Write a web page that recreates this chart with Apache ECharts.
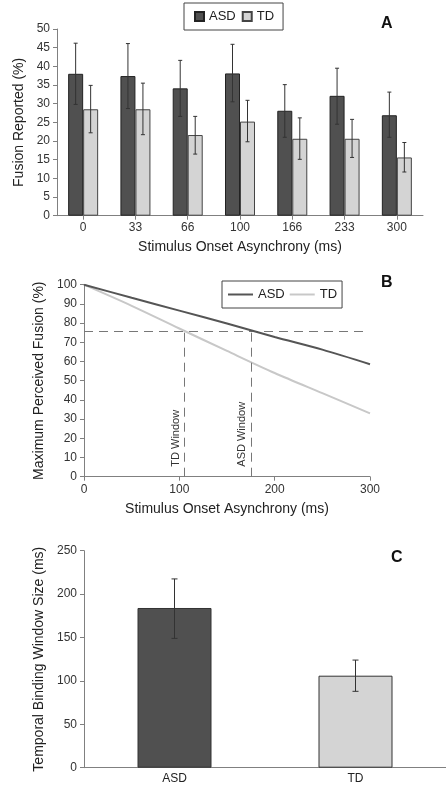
<!DOCTYPE html>
<html>
<head>
<meta charset="utf-8">
<script src="https://cdn.jsdelivr.net/npm/echarts@6/dist/echarts.min.js"></script>
<style>
html, body { margin: 0; padding: 0; background: #fff; }
#main { width: 446px; height: 787px; }
</style>
</head>
<body>
<div id="main"></div>
<script>
// panel A: fusion reported per SOA
var soaCats = ['0', '33', '66', '100', '166', '233', '300'];
var asdFusion = [38.0, 37.4, 34.1, 38.1, 28.1, 32.1, 26.9];
var asdFusionHigh = [46.2, 46.1, 41.6, 45.9, 35.1, 39.5, 33.1];
var asdFusionLow = [29.8, 28.7, 26.6, 30.5, 21.0, 24.5, 21.0];
var tdFusion = [28.5, 28.5, 21.6, 25.2, 20.6, 20.6, 15.6];
var tdFusionHigh = [34.9, 35.5, 26.6, 30.9, 26.2, 25.8, 19.6];
var tdFusionLow = [22.2, 21.7, 16.5, 19.8, 15.1, 15.6, 11.7];

// panel B: modelled max perceived fusion
var soaMs = [0, 50, 100, 150, 200, 250, 300];
var asdCurve = [100, 93.2, 86.5, 79.8, 72.8, 66.2, 58.6];
var tdCurve = [100, 89.0, 77.2, 65.5, 54.0, 43.5, 33.0];
var threshold = 76;
var windowNames = ['TD Window', 'ASD Window'];
var windowAt = [105, 175];

// panel C: window size
var groups = ['ASD', 'TD'];
var windowSize = [184, 106];
var windowHigh = [217.5, 124];
var windowLow = [149, 88];

var asdColor = '#505050';
var tdColor = '#d4d4d4';
var axisGray = '#808080';
var font = 'Liberation Sans';

function errPairs(hi, lo) {
	var out = [];
	for (var i = 0; i < hi.length; i++) {
		out.push([i, hi[i], lo[i]]);
	}
	return out;
}

// draws error bars, shifted sideways by dx px
function errorRender(dx, cap) {
	return function (params, api) {
		var x = api.value(0);
		var hi = api.coord([x, api.value(1)]);
		var lo = api.coord([x, api.value(2)]);
		var cx = hi[0] + dx;
		var style = { stroke: '#333', lineWidth: 1 };
		return {
			type: 'group',
			children: [
				{ type: 'line', shape: { x1: cx, y1: hi[1], x2: cx, y2: lo[1] }, style: style },
				{ type: 'line', shape: { x1: cx - cap, y1: hi[1], x2: cx + cap, y2: hi[1] }, style: style },
				{ type: 'line', shape: { x1: cx - cap, y1: lo[1], x2: cx + cap, y2: lo[1] }, style: style }
			]
		};
	};
}

var axisCommon = {
	axisLine: { show: true, lineStyle: { color: axisGray, width: 1 } },
	axisTick: { show: true, length: 4, lineStyle: { color: axisGray } },
	axisLabel: { color: '#333', fontSize: 12, fontFamily: font },
	splitLine: { show: false },
	nameTextStyle: { color: '#222', fontSize: 14, fontFamily: font }
};

function ax(extra) {
	return Object.assign({}, JSON.parse(JSON.stringify(axisCommon)), extra);
}

var myChart = echarts.init(document.getElementById('main'));

var option = {
	animation: false,
	backgroundColor: '#fff',
	textStyle: { fontFamily: font },
	grid: [
		{ left: 57, right: 23, top: 29, height: 186.7 },
		{ left: 84, right: 76, top: 284.7, height: 192 },
		{ left: 84, right: -9, top: 550.7, height: 217 }
	],
	legend: [{
		data: ['ASD', 'TD'],
		left: 184, top: 3,
		padding: [7, 9, 7, 10],
		icon: 'rect',
		itemWidth: 9, itemHeight: 9, itemGap: 6,
		borderColor: '#444', borderWidth: 1,
		textStyle: { fontSize: 13, color: '#222', fontFamily: font }
	}, {
		data: ['ASD ', 'TD '],
		left: 222, top: 281,
		padding: [7, 5, 7, 5],
		itemWidth: 25, itemHeight: 10, itemGap: 4,
		borderColor: '#444', borderWidth: 1,
		itemStyle: { opacity: 0 },
		formatter: function (n) { return n.trim(); },
		textStyle: { fontSize: 13, color: '#222', fontFamily: font }
	}],
	xAxis: [
		ax({
			gridIndex: 0, type: 'category', data: soaCats,
			axisTick: { show: true, alignWithLabel: true, length: 4, lineStyle: { color: axisGray } },
			axisLabel: { color: '#333', fontSize: 12, fontFamily: font, margin: 6 },
			name: 'Stimulus Onset Asynchrony (ms)', nameLocation: 'middle', nameGap: 24
		}),
		ax({
			gridIndex: 1, type: 'value', min: 0, max: 300, interval: 100,
			axisLabel: { color: '#333', fontSize: 12, fontFamily: font, margin: 7 },
			name: 'Stimulus Onset Asynchrony (ms)', nameLocation: 'middle', nameGap: 25
		}),
		ax({
			gridIndex: 2, type: 'category', data: groups,
			axisTick: { show: false },
			axisLabel: { color: '#222', fontSize: 12, fontFamily: font, margin: 5 }
		})
	],
	yAxis: [
		ax({
			gridIndex: 0, type: 'value', min: 0, max: 50, interval: 5,
			axisLabel: { color: '#333', fontSize: 12, fontFamily: font, margin: 7 },
			name: 'Fusion Reported (%)', nameLocation: 'middle', nameGap: 28
		}),
		ax({
			gridIndex: 1, type: 'value', min: 0, max: 100, interval: 10,
			axisLabel: { color: '#333', fontSize: 12, fontFamily: font, margin: 7 },
			name: 'Maximum Perceived Fusion (%)', nameLocation: 'middle', nameGap: 35
		}),
		ax({
			gridIndex: 2, type: 'value', min: 0, max: 250, interval: 50,
			axisLabel: { color: '#333', fontSize: 12, fontFamily: font, margin: 7 },
			name: 'Temporal Binding Window Size (ms)', nameLocation: 'middle', nameGap: 35
		})
	],
	graphic: [
		{ type: 'text', left: 381, top: 16, style: { text: 'A', font: 'bold 16px "Liberation Sans"', fill: '#111' } },
		{ type: 'text', left: 381, top: 275, style: { text: 'B', font: 'bold 16px "Liberation Sans"', fill: '#111' } },
		{ type: 'text', left: 391, top: 550, style: { text: 'C', font: 'bold 16px "Liberation Sans"', fill: '#111' } }
	],
	series: [
		{
			name: 'ASD', type: 'bar', xAxisIndex: 0, yAxisIndex: 0,
			data: asdFusion, barWidth: 15, barGap: '0%',
			itemStyle: { color: asdColor, borderColor: '#222', borderWidth: 1 }
		},
		{
			name: 'TD', type: 'bar', xAxisIndex: 0, yAxisIndex: 0,
			data: tdFusion, barWidth: 15, barGap: '0%',
			itemStyle: { color: tdColor, borderColor: '#444', borderWidth: 1 }
		},
		{
			type: 'custom', xAxisIndex: 0, yAxisIndex: 0, z: 10,
			renderItem: errorRender(-7.5, 2), data: errPairs(asdFusionHigh, asdFusionLow)
		},
		{
			type: 'custom', xAxisIndex: 0, yAxisIndex: 0, z: 10,
			renderItem: errorRender(7.5, 2), data: errPairs(tdFusionHigh, tdFusionLow)
		},
		{
			name: 'ASD ', type: 'line', xAxisIndex: 1, yAxisIndex: 1,
			data: soaMs.map(function (x, i) { return [x, asdCurve[i]]; }),
			smooth: 0.3, symbol: 'none', z: 5,
			lineStyle: { color: '#555', width: 2 }, itemStyle: { color: '#555' }
		},
		{
			name: 'TD ', type: 'line', xAxisIndex: 1, yAxisIndex: 1,
			data: soaMs.map(function (x, i) { return [x, tdCurve[i]]; }),
			smooth: 0.3, symbol: 'none', z: 4,
			lineStyle: { color: '#c8c8c8', width: 2 }, itemStyle: { color: '#c8c8c8' },
			markLine: {
				silent: true,
				symbol: ['none', 'none'],
				lineStyle: { color: '#777', type: [9, 6], width: 1 },
				label: {
					show: true, position: 'insideStartTop', distance: [10, 3],
					fontSize: 11, color: '#333', fontFamily: font,
					formatter: function (p) { return p.name; }
				},
				data: [
					[{ coord: [0, threshold], name: '', label: { show: false } }, { coord: [297, threshold] }],
					[{ coord: [windowAt[0], 0], name: windowNames[0] }, { coord: [windowAt[0], threshold] }],
					[{ coord: [windowAt[1], 0], name: windowNames[1] }, { coord: [windowAt[1], threshold] }]
				]
			}
		},
		{
			type: 'bar', xAxisIndex: 2, yAxisIndex: 2, barWidth: 74,
			data: windowSize.map(function (v, i) {
				return { value: v, itemStyle: { color: i === 0 ? asdColor : tdColor } };
			}),
			itemStyle: { borderColor: '#333', borderWidth: 1 }
		},
		{
			type: 'custom', xAxisIndex: 2, yAxisIndex: 2, z: 10,
			renderItem: errorRender(0, 3), data: errPairs(windowHigh, windowLow)
		}
	]
};

myChart.setOption(option);
</script>
</body>
</html>
